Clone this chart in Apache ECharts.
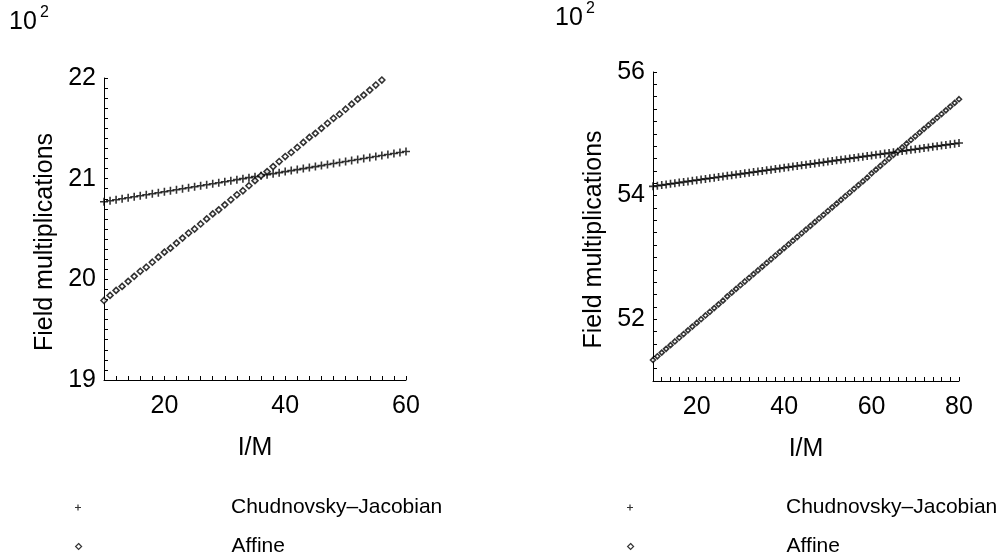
<!DOCTYPE html>
<html>
<head>
<meta charset="utf-8">
<script src="https://cdn.jsdelivr.net/npm/echarts@6/dist/echarts.min.js"></script>
<style>
html,body{margin:0;padding:0;background:#fff;}
#main{width:1000px;height:559px;}
</style>
</head>
<body>
<div id="main"></div>
<script>
// ---- data (values in units of 10^2 field multiplications) ----
const leftX = [10,11,12,13,14,15,16,17,18,19,20,21,22,23,24,25,26,27,28,29,30,31,32,33,34,35,36,37,38,39,40,41,42,43,44,45,46,47,48,49,50,51,52,53,54,55,56,57,58,59,60];
const leftChud = [20.77,20.78,20.79,20.80,20.81,20.82,20.83,20.84,20.85,20.86,
  20.87,20.88,20.89,20.90,20.91,20.92,20.93,20.94,20.95,20.96,
  20.97,20.98,20.99,21.00,21.01,21.02,21.03,21.04,21.05,21.06,
  21.07,21.08,21.09,21.10,21.11,21.12,21.13,21.14,21.15,21.16,
  21.17,21.18,21.19,21.20,21.21,21.22,21.23,21.24,21.25,21.26,21.27];
const leftAffine = [19.79,19.84,19.89,19.93,19.98,20.03,20.08,20.12,20.17,20.22,
  20.27,20.31,20.36,20.41,20.46,20.50,20.55,20.60,20.65,20.69,
  20.74,20.79,20.84,20.88,20.93,20.98,21.03,21.07,21.12,21.17,
  21.22,21.26,21.31,21.36,21.41,21.45,21.50,21.55,21.60,21.64,
  21.69,21.74,21.79,21.83,21.88,21.93,21.98];
const rightX = [10,11,12,13,14,15,16,17,18,19,20,21,22,23,24,25,26,27,28,29,30,31,32,33,34,35,36,37,38,39,40,41,42,43,44,45,46,47,48,49,50,51,52,53,54,55,56,57,58,59,60,61,62,63,64,65,66,67,68,69,70,71,72,73,74,75,76,77,78,79,80];
const rightChud = [54.15,54.16,54.17,54.18,54.19,54.20,54.21,54.22,54.23,54.24,
  54.25,54.26,54.27,54.28,54.29,54.30,54.31,54.32,54.33,54.34,
  54.35,54.36,54.37,54.38,54.39,54.40,54.41,54.42,54.43,54.44,
  54.45,54.46,54.47,54.48,54.49,54.50,54.51,54.52,54.53,54.54,
  54.55,54.56,54.57,54.58,54.59,54.60,54.61,54.62,54.63,54.64,
  54.65,54.66,54.67,54.68,54.69,54.70,54.71,54.72,54.73,54.74,
  54.75,54.76,54.77,54.78,54.79,54.80,54.81,54.82,54.83,54.84,54.85];
const rightAffine = [51.34,51.40,51.46,51.52,51.58,51.64,51.70,51.76,51.82,51.88,
  51.94,52.00,52.06,52.12,52.18,52.24,52.30,52.37,52.43,52.49,
  52.55,52.61,52.67,52.73,52.79,52.85,52.91,52.97,53.03,53.09,
  53.15,53.21,53.27,53.33,53.39,53.45,53.51,53.57,53.63,53.69,
  53.75,53.81,53.87,53.93,53.99,54.05,54.11,54.17,54.23,54.29,
  54.36,54.42,54.48,54.54,54.60,54.66,54.72,54.78,54.84,54.90,
  54.96,55.02,55.08,55.14,55.20,55.26,55.32,55.38,55.44,55.50,55.56];
const seriesNames = ['Chudnovsky–Jacobian', 'Affine'];
const xName = 'I/M';
const yName = 'Field multiplications';
const scaleText = ['10', '2'];

// ---- build ----
const FONT = '"Liberation Sans", Arial, Helvetica, sans-serif';
const PLUS = 'path://M4,0H6V4H10V6H6V10H4V6H0V4H4Z';
const zip = (xs, ys) => ys.map((y, i) => [xs[i], y]);
const near = (v, k) => Math.abs(v - Math.round(v)) < 1e-6 && Math.round(v) % k === 0;

function xAxis(idx, min, max) {
  return {
    type: 'value', gridIndex: idx, min: min, max: max, interval: 2,
    name: xName, nameLocation: 'middle', nameGap: 56,
    nameTextStyle: { fontFamily: FONT, fontSize: 25, color: '#000' },
    axisLine: { show: true, lineStyle: { color: '#000', width: 1 } },
    axisTick: { show: true, inside: true, length: 4, lineStyle: { color: '#000' } },
    axisLabel: { fontFamily: FONT, fontSize: 25, color: '#000', margin: 14,
      formatter: v => near(v, 20) ? String(Math.round(v)) : '' },
    splitLine: { show: false }
  };
}
function yAxis(idx, min, max, step, every) {
  return {
    type: 'value', gridIndex: idx, min: min, max: max, interval: step,
    name: yName, nameLocation: 'middle', nameGap: 46,
    nameTextStyle: { fontFamily: FONT, fontSize: 25, color: '#000', padding: [0, 26, 0, 0] },
    axisLine: { show: true, lineStyle: { color: '#000', width: 1 } },
    axisTick: { show: true, inside: true, length: 4, lineStyle: { color: '#000' } },
    axisLabel: { fontFamily: FONT, fontSize: 25, color: '#000', margin: 8,
      formatter: v => near(v, every) ? String(Math.round(v)) : '' },
    splitLine: { show: false }
  };
}
const plusStyle = { color: '#000' };
const diaStyle = { color: '#fff', borderColor: '#000', borderWidth: 1.6 };

function legend(left, top, k, pad) {
  return {
    left: left, top: top, itemWidth: 6, itemHeight: 6,
    selectedMode: false,
    textStyle: { fontFamily: FONT, fontSize: 21, color: '#000', padding: [0, 0, 0, pad] },
    data: [k === 0
      ? { name: seriesNames[0], icon: PLUS, itemStyle: plusStyle }
      : { name: seriesNames[1], icon: 'diamond', itemStyle: { color: '#fff', borderColor: '#000', borderWidth: 1.2 } }]
  };
}

const option = {
  animation: false,
  backgroundColor: '#fff',
  textStyle: { fontFamily: FONT },
  grid: [
    { left: 104, top: 78, width: 302, height: 302 },
    { left: 653, top: 72, width: 306, height: 309 }
  ],
  xAxis: [xAxis(0, 10, 60), xAxis(1, 10, 80)],
  yAxis: [yAxis(0, 19, 22, 0.1, 1), yAxis(1, 51, 56, 0.2, 2)],
  legend: [legend(70, 492, 0, 145), legend(70, 531, 1, 145), legend(622, 492, 0, 148), legend(622, 531, 1, 148)],
  graphic: [
    { type: 'text', left: 9, top: 10, style: { text: scaleText[0], font: '25px ' + FONT, fill: '#000' } },
    { type: 'text', left: 40, top: 5, style: { text: scaleText[1], font: '16px ' + FONT, fill: '#000' } },
    { type: 'text', left: 555, top: 6, style: { text: scaleText[0], font: '25px ' + FONT, fill: '#000' } },
    { type: 'text', left: 586, top: 1, style: { text: scaleText[1], font: '16px ' + FONT, fill: '#000' } }
  ],
  series: [
    { type: 'scatter', name: seriesNames[0], xAxisIndex: 0, yAxisIndex: 0, symbol: PLUS, symbolSize: 8,
      itemStyle: plusStyle, data: zip(leftX, leftChud), emphasis: { disabled: true } },
    { type: 'scatter', name: seriesNames[1], xAxisIndex: 0, yAxisIndex: 0, symbol: 'diamond', symbolSize: 6,
      itemStyle: diaStyle, data: zip(leftX, leftAffine), emphasis: { disabled: true } },
    { type: 'scatter', name: seriesNames[0], xAxisIndex: 1, yAxisIndex: 1, symbol: PLUS, symbolSize: 8,
      itemStyle: plusStyle, data: zip(rightX, rightChud), emphasis: { disabled: true } },
    { type: 'scatter', name: seriesNames[1], xAxisIndex: 1, yAxisIndex: 1, symbol: 'diamond', symbolSize: 5,
      itemStyle: diaStyle, data: zip(rightX, rightAffine), emphasis: { disabled: true } }
  ]
};
const chart = echarts.init(document.getElementById('main'), null, { renderer: 'canvas' });
chart.setOption(option);
</script>
</body>
</html>
